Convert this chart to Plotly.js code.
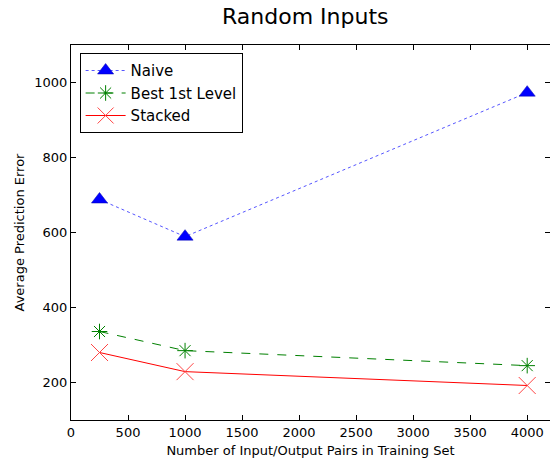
<!DOCTYPE html>
<html>
<head>
<meta charset="utf-8">
<script src="https://cdn.plot.ly/plotly-3.0.1.min.js"></script>
<style>html,body{margin:0;padding:0;background:#fff;}#chart{width:550px;height:463px;}</style>
</head>
<body>
<div id="chart"></div>
<script>
const trainSizes = [250, 1000, 4000];
const naiveErr = [688, 589, 973];
const bestFirstErr = [336, 285, 245];
const stackedErr = [280, 229, 192];
const seriesNames = ["Naive", "Best 1st Level", "Stacked"];
const xTicks = [0, 500, 1000, 1500, 2000, 2500, 3000, 3500, 4000];
const yTicks = [200, 400, 600, 800, 1000];

const font = "DejaVu Sans, sans-serif";
const traces = [
  {x: trainSizes, y: naiveErr, name: seriesNames[0], mode: "lines+markers",
   line: {color: "#5555ff", dash: "dot", width: 1},
   marker: {symbol: "triangle-up", size: 14, color: "#0000ff", line: {color: "#0000aa", width: 0.5}}},
  {x: trainSizes, y: bestFirstErr, name: seriesNames[1], mode: "lines+markers",
   line: {color: "#008000", dash: "dash", width: 1},
   marker: {symbol: "asterisk-open", size: 13, color: "#008000", line: {color: "#008000", width: 1}}},
  {x: trainSizes, y: stackedErr, name: seriesNames[2], mode: "lines+markers",
   line: {color: "#ff0000", width: 1},
   marker: {symbol: "x-thin-open", size: 17, color: "#ff4444", line: {color: "#ff4444", width: 1}}}
];
const axisCommon = {showline: true, linecolor: "#000", linewidth: 1, mirror: "ticks",
  ticks: "inside", ticklen: 5, tickcolor: "#000", showgrid: false, zeroline: false,
  tickfont: {family: font, size: 13, color: "#000"}};
const layout = {
  width: 550, height: 463,
  margin: {l: 71, r: 0, t: 45, b: 43},
  paper_bgcolor: "#fff", plot_bgcolor: "#fff",
  title: {text: "Random Inputs", font: {family: font, size: 22, color: "#000"}, x: 0.555, xanchor: "center", y: 0.982, yanchor: "top"},
  xaxis: Object.assign({}, axisCommon, {range: [0, 4200], tickvals: xTicks, ticktext: xTicks.map(String),
    title: {text: "Number of Input/Output Pairs in Training Set", font: {family: font, size: 13, color: "#000"}, standoff: 7}}),
  yaxis: Object.assign({}, axisCommon, {range: [100, 1100], tickvals: yTicks, ticktext: yTicks.map(String),
    title: {text: "Average Prediction Error", font: {family: font, size: 13, color: "#000"}, standoff: 6}}),
  showlegend: true,
  legend: {x: 0.018, y: 0.978, xanchor: "left", yanchor: "top", bgcolor: "#fff", bordercolor: "#000", borderwidth: 1,
    font: {family: font, size: 15, color: "#000"}, itemwidth: 40}
};
Plotly.newPlot("chart", traces, layout, {displayModeBar: false, staticPlot: true});
</script>
</body>
</html>
